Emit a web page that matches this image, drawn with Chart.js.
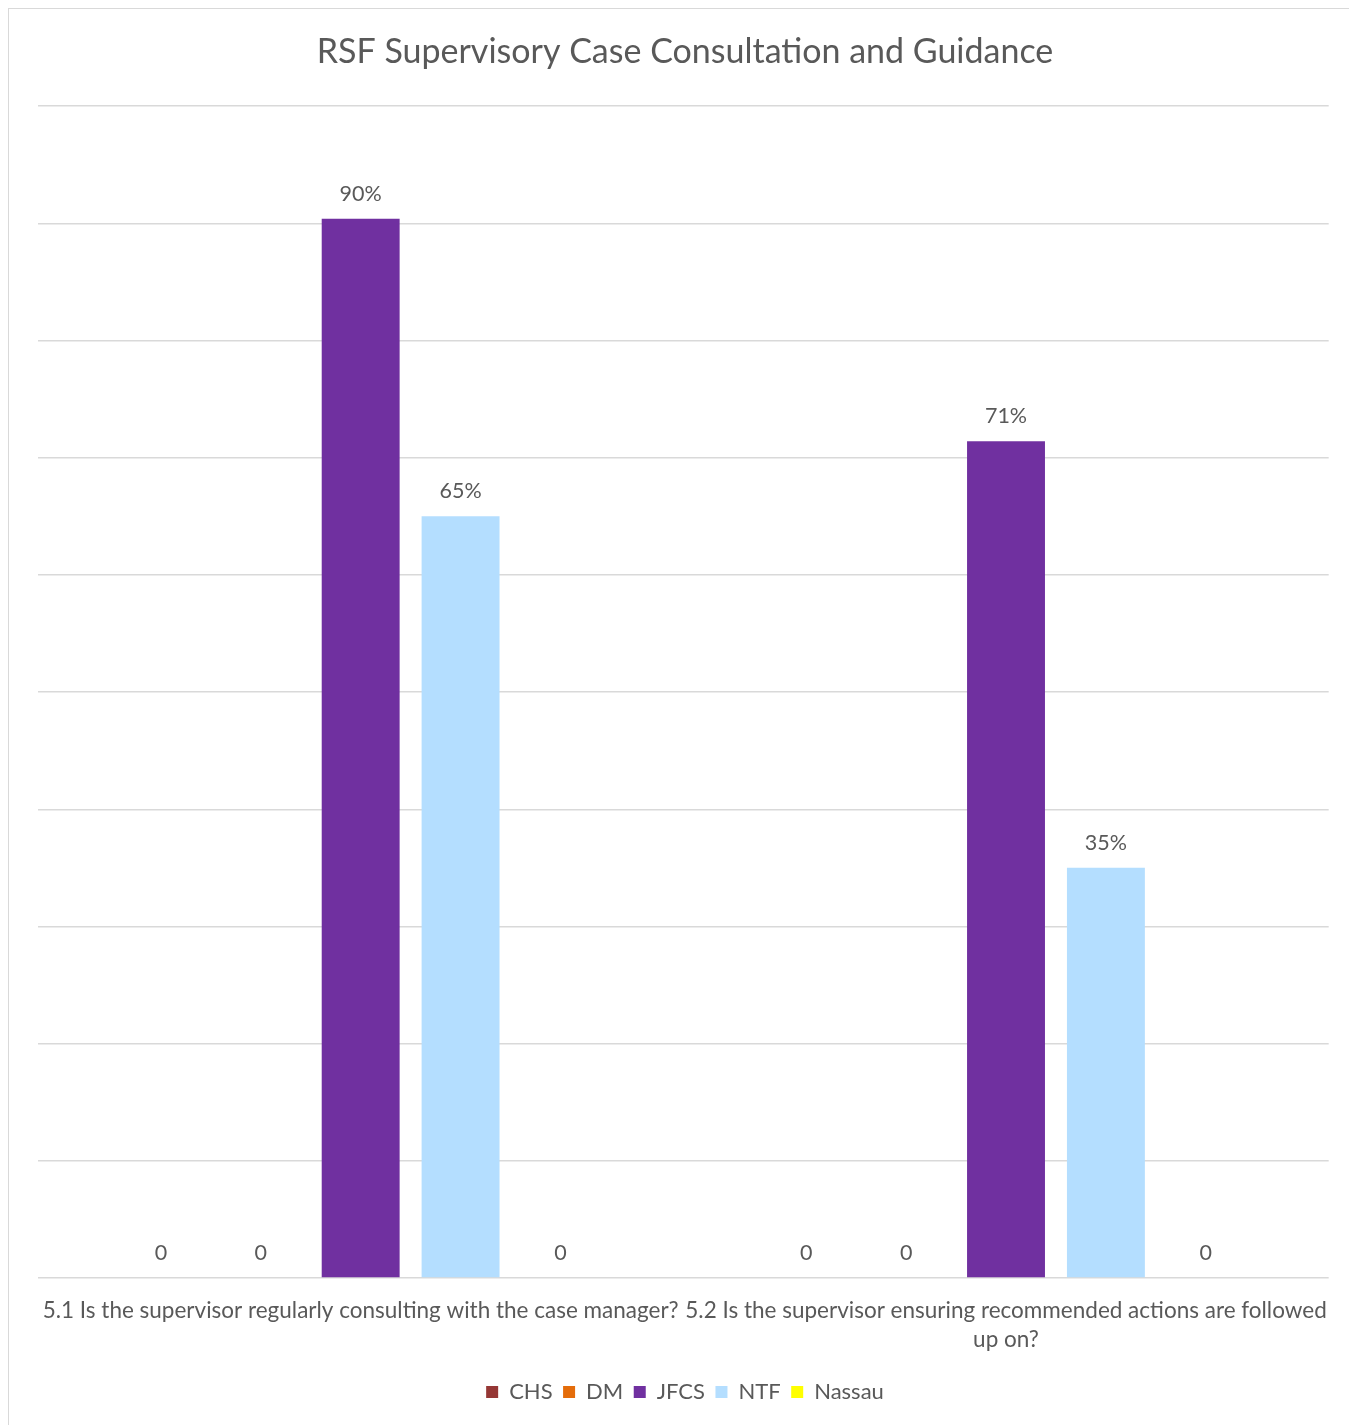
<!DOCTYPE html>
<html>
<head>
<meta charset="utf-8">
<script src="https://cdn.jsdelivr.net/npm/chart.js@4.4.1/dist/chart.umd.min.js"></script>
<style>
  html, body { margin: 0; padding: 0; background: #fff; overflow: hidden; }
  #frame {
    position: absolute; left: 8px; top: 8px;
    width: 1340px; height: 1430px;
    border: 1px solid #d9d9d9;
  }
</style>
</head>
<body>
<div id="frame"><canvas id="consultChart"></canvas></div>
<script>
const categories = [
  '5.1 Is the supervisor regularly consulting with the case manager?',
  ['5.2 Is the supervisor ensuring recommended actions are followed', 'up on?']
];
const agencies = ['CHS', 'DM', 'JFCS', 'NTF', 'Nassau'];
const chsValues = [0, 0];
const dmValues = [0, 0];
const jfcsValues = [0.904, 0.714];
const ntfValues = [0.65, 0.35];
const nassauValues = [0, 0];
const agencyColors = ['#953735', '#e46c0a', '#7030a0', '#b4deff', '#ffff00'];

const textColor = '#595959';
const fontFamily = 'Lato, Carlito, sans-serif';

// value labels above each bar ("0" for empty, percent otherwise)
const barLabels = {
  id: 'barLabels',
  afterDatasetsDraw(chart) {
    const ctx = chart.ctx;
    ctx.save();
    ctx.font = '21.5px ' + fontFamily;
    ctx.fillStyle = textColor;
    ctx.textAlign = 'center';
    ctx.textBaseline = 'middle';
    chart.data.datasets.forEach((ds, i) => {
      chart.getDatasetMeta(i).data.forEach((bar, j) => {
        const v = ds.data[j];
        const txt = v === 0 ? '0' : Math.round(v * 100) + '%';
        ctx.fillText(txt, bar.x, bar.y - 25);
      });
    });
    ctx.restore();
  }
};

const seriesValues = [chsValues, dmValues, jfcsValues, ntfValues, nassauValues];

new Chart(document.getElementById('consultChart'), {
  type: 'bar',
  data: {
    labels: categories,
    datasets: agencies.map((name, i) => ({
      label: name,
      data: seriesValues[i],
      backgroundColor: agencyColors[i],
      borderWidth: 0,
      categoryPercentage: 0.774,
      barPercentage: 0.78
    }))
  },
  options: {
    responsive: true,
    maintainAspectRatio: false,
    animation: false,
    layout: { padding: { left: 29, right: 17, top: 0, bottom: 26 } },
    plugins: {
      title: {
        display: true,
        text: 'RSF Supervisory Case Consultation and Guidance',
        color: textColor,
        font: { family: fontFamily, size: 34, weight: 'normal' },
        padding: { top: 22.6, bottom: 33.8 }
      },
      legend: {
        position: 'bottom',
        labels: {
          color: textColor,
          font: { family: fontFamily, size: 22 },
          boxWidth: 12,
          boxHeight: 12,
          padding: 10.5
        }
      },
      tooltip: { enabled: false }
    },
    scales: {
      x: {
        grid: { display: false, drawTicks: false },
        border: { display: false },
        ticks: {
          color: textColor,
          font: { family: fontFamily, size: 22.5, lineHeight: 1.29 },
          padding: 18,
          maxRotation: 0,
          autoSkip: false
        },
        afterFit(scale) { scale.height = 92.5; }
      },
      y: {
        min: 0,
        max: 1,
        ticks: { display: false, stepSize: 0.1 },
        grid: { color: '#d9d9d9', lineWidth: 1.5, drawTicks: false },
        border: { display: false },
        afterFit(scale) { scale.width = 0; }
      }
    }
  },
  plugins: [barLabels]
});
</script>
</body>
</html>
